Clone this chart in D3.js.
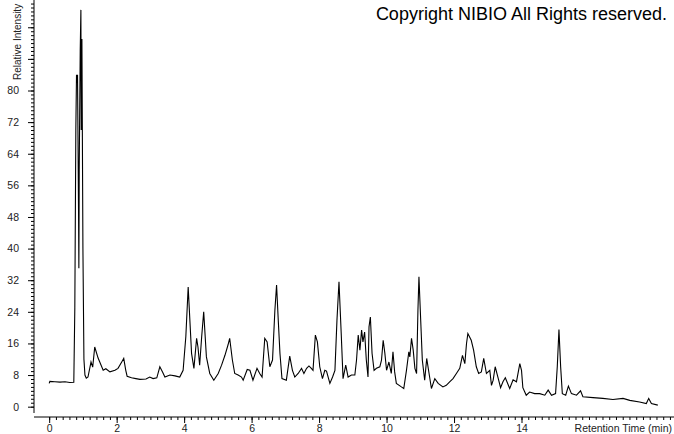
<!DOCTYPE html>
<html>
<head>
<meta charset="utf-8">
<script src="https://cdn.jsdelivr.net/npm/d3@7"></script>
<style>
  body { margin: 0; background: #fff; }
  svg { display: block; font-family: "Liberation Sans", Arial, sans-serif; }
</style>
</head>
<body>
<svg id="chart" width="674" height="434"></svg>
<script>
// retention time (min) and relative intensity
var times = [0.00,0.02,0.17,0.32,0.47,0.61,0.73,0.76,0.79,0.81,0.82,0.84,0.87,0.88,0.89,0.92,0.94,0.95,0.97,1.00,
  1.03,1.06,1.10,1.15,1.24,1.29,1.35,1.45,1.60,1.68,1.80,1.95,2.04,2.15,2.21,2.27,2.31,2.44,2.57,2.69,
  2.87,2.98,3.08,3.19,3.28,3.36,3.43,3.58,3.73,3.87,3.97,4.05,4.12,4.22,4.29,4.37,4.41,4.46,4.52,4.58,
  4.66,4.76,4.88,5.01,5.11,5.21,5.30,5.35,5.43,5.50,5.60,5.70,5.75,5.87,5.95,6.04,6.16,6.24,6.31,6.39,
  6.46,6.54,6.62,6.69,6.74,6.79,6.84,6.90,7.03,7.13,7.21,7.28,7.38,7.48,7.55,7.63,7.70,7.77,7.82,7.89,
  7.95,8.02,8.10,8.17,8.22,8.32,8.40,8.47,8.53,8.59,8.66,8.71,8.79,8.86,8.96,9.06,9.11,9.16,9.21,9.26,
  9.30,9.35,9.40,9.45,9.48,9.52,9.57,9.63,9.70,9.80,9.85,9.90,9.95,10.00,10.07,10.14,10.19,10.24,10.29,10.44,
  10.51,10.59,10.66,10.69,10.74,10.79,10.84,10.89,10.93,10.96,11.00,11.06,11.13,11.19,11.26,11.33,11.43,11.53,11.67,11.77,
  11.87,11.97,12.07,12.17,12.25,12.32,12.37,12.41,12.51,12.58,12.66,12.73,12.81,12.88,12.96,13.06,13.11,13.16,13.22,13.30,
  13.38,13.45,13.52,13.65,13.75,13.85,13.95,14.00,14.04,14.14,14.24,14.39,14.54,14.69,14.79,14.89,15.01,15.06,15.11,15.16,
  15.21,15.31,15.39,15.48,15.63,15.75,15.82,16.12,16.41,16.71,17.01,17.21,17.50,17.70,17.77,17.85,18.04];
var intensity = [5.9,6.4,6.3,6.2,6.3,6.1,6.2,25,70,84,82,84,50,35,60,90,100.4,70,93,40,
  12,8,7.2,7.5,11.3,10,15.1,12.3,9.2,9.6,8.8,9.2,9.7,11.3,12.2,9.2,7.7,7.3,7.1,6.9,
  7.0,7.5,7.1,7.3,10.1,8.8,7.5,8.0,7.8,7.5,9.2,17.7,30.3,13.5,9.7,17.3,15.1,10.5,17.7,24.0,
  12.6,8.4,6.7,8.4,10.5,13.0,15.6,17.3,11.8,8.4,8.0,7.5,6.7,9.4,9.2,6.7,9.7,8.4,7.5,17.3,
  16.4,10.1,11.8,24.4,30.8,21.9,13.5,7.1,6.7,12.8,9.2,7.5,8.4,9.7,8.4,9.7,10.3,9.7,9.2,18.1,
  16.4,10.1,7.1,9.2,9.0,5.9,7.5,9.2,21.9,31.6,17.7,7.1,10.5,7.5,8.0,8.0,11.8,18.1,14.3,19.4,
  16.4,18.9,11.8,7.5,20.2,22.7,13.5,9.2,9.7,10.1,11.8,16.8,13.5,9.2,11.3,8.4,13.9,8.8,5.9,5.0,
  4.6,9.2,13.9,12.6,17.3,14.3,9.7,8.4,24.4,32.9,24.4,11.8,6.7,12.2,8.4,4.6,7.1,5.9,5.0,5.4,
  6.3,7.1,8.4,9.7,13.0,10.9,16.0,18.5,16.8,14.3,10.1,8.4,8.8,12.2,8.4,9.2,5.4,6.7,10.1,7.5,
  4.8,6.3,7.3,4.6,6.8,6.3,10.9,9.2,4.8,2.9,3.7,3.3,3.3,2.9,4.2,2.9,3.3,10.1,19.5,10.1,
  3.3,2.9,5.2,3.3,2.9,4.0,2.5,2.3,2.1,1.8,2.1,1.6,1.2,0.8,2.1,0.8,0.4];

var yLabels = [0, 8, 16, 24, 32, 40, 48, 56, 64, 72, 80];
var xLabels = [0, 2, 4, 6, 8, 10, 12, 14];

var svg = d3.select("#chart");

var x = d3.scaleLinear().domain([-0.45, 18.52]).range([34, 674]);
var y = d3.scaleLinear().domain([-1.6, 102.9]).range([413, 0]);

// x axis: minor ticks every 0.2 min, labels on even minutes
var xMinor = d3.range(0, 93).map(function(i) { return +(i * 0.2).toFixed(1); });
var xAxisG = svg.append("g").attr("transform", "translate(0,417)");
xAxisG.append("line")
    .attr("x1", 34).attr("x2", 674)
    .attr("stroke", "#000");
xAxisG.call(d3.axisBottom(x).tickValues(xMinor).tickSize(3).tickFormat(""))
    .call(function(g) { g.select(".domain").remove(); });
xAxisG.selectAll(".tick line").attr("stroke", "#000").attr("stroke-width", 1);
xAxisG.append("g").call(d3.axisBottom(x).tickValues(xLabels).tickSize(6).tickPadding(2)
        .tickFormat(d3.format("d")))
    .call(function(g) {
        g.select(".domain").remove();
        g.selectAll("text").attr("font-size", 10.5).attr("fill", "#222")
            .attr("font-family", "Liberation Sans, Arial, sans-serif");
    });

xAxisG.append("text")
    .attr("x", 672).attr("y", 15)
    .attr("text-anchor", "end")
    .attr("font-size", 10.5)
    .attr("fill", "#222")
    .text("Retention Time (min)");

// y axis: minor ticks every unit, labels every 8
var yMinor = d3.range(0, 103);
var yAxisG = svg.append("g").attr("transform", "translate(34,0)");
yAxisG.append("line")
    .attr("y1", 0).attr("y2", 413)
    .attr("stroke", "#000");
yAxisG.call(d3.axisLeft(y).tickValues(yMinor).tickSize(3).tickFormat(""))
    .call(function(g) { g.select(".domain").remove(); });
yAxisG.append("g").call(d3.axisLeft(y).tickValues(yLabels).tickSize(6).tickPadding(9)
        .tickFormat(d3.format("d")))
    .call(function(g) {
        g.select(".domain").remove();
        g.selectAll("text").attr("font-size", 10.5).attr("fill", "#222")
            .attr("font-family", "Liberation Sans, Arial, sans-serif");
    });
yAxisG.append("g").call(d3.axisLeft(y).tickValues([88, 96]).tickSize(6).tickFormat(""))
    .call(function(g) { g.select(".domain").remove(); });

svg.append("text")
    .attr("transform", "translate(21,80) rotate(-90)")
    .attr("font-size", 10)
    .attr("fill", "#222")
    .text("Relative Intensity");

// the chromatogram trace
var points = times.map(function(t, i) { return [t, intensity[i]]; });
var line = d3.line()
    .x(function(d) { return x(d[0]); })
    .y(function(d) { return y(d[1]); });

svg.append("path")
    .datum(points)
    .attr("d", line)
    .attr("fill", "none")
    .attr("stroke", "#000")
    .attr("stroke-width", 1.1);

svg.append("text")
    .attr("x", 667).attr("y", 20)
    .attr("text-anchor", "end")
    .attr("font-size", 18)
    .attr("fill", "#000")
    .text("Copyright NIBIO All Rights reserved.");
</script>
</body>
</html>
